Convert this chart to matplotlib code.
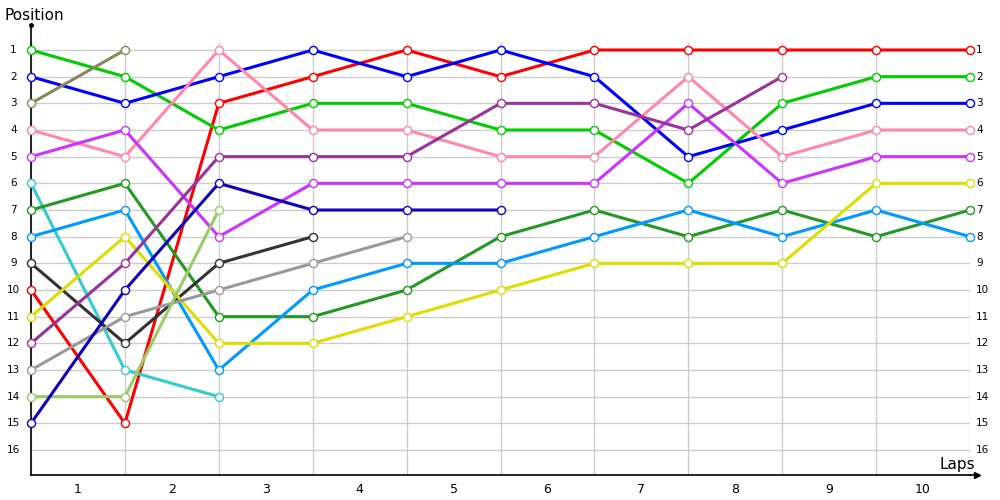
import matplotlib
matplotlib.use('Agg')
import matplotlib.pyplot as plt
from matplotlib import transforms

laps = ['1', '2', '3', '4', '5', '6', '7', '8', '9', '10']
positions = list(range(1, 17))

red = [10, 15, 3, 2, 1, 2, 1, 1, 1, 1, 1]
green = [1, 2, 4, 3, 3, 4, 4, 6, 3, 2, 2]
blue = [2, 3, 2, 1, 2, 1, 2, 5, 4, 3, 3]
olive = [3, 1]
pink = [4, 5, 1, 4, 4, 5, 5, 2, 5, 4, 4]
violet = [5, 4, 8, 6, 6, 6, 6, 3, 6, 5, 5]
cyan = [6, 13, 14]
dark_green = [7, 6, 11, 11, 10, 8, 7, 8, 7, 8, 7]
light_blue = [8, 7, 13, 10, 9, 9, 8, 7, 8, 7, 8]
charcoal = [9, 12, 9, 8]
yellow = [11, 8, 12, 12, 11, 10, 9, 9, 9, 6, 6]
purple = [12, 9, 5, 5, 5, 3, 3, 4, 2]
gray = [13, 11, 10, 9, 8]
lime = [14, 14, 7]
navy = [15, 10, 6, 7, 7, 7]

series = [
    (red, '#ff0000'), (green, '#00cc00'), (blue, '#0000ff'), (olive, '#888855'),
    (pink, '#ff88aa'), (violet, '#cc33ff'), (cyan, '#33cccc'), (dark_green, '#229922'),
    (light_blue, '#0099ff'), (charcoal, '#333333'), (yellow, '#dddd00'),
    (purple, '#993399'), (gray, '#999999'), (lime, '#99cc66'), (navy, '#1100bb'),
]

fig = plt.figure(figsize=(10, 5), dpi=100)
ax = fig.add_axes([0.031, 0.05, 0.939, 0.9])
ax.set_xlim(0, 10)
ax.set_ylim(16.9375, 0.0625)

# grid
ax.hlines(positions, 0, 10, color='#cccccc', lw=1, zorder=0)
ax.vlines(range(11), 0.7, 16.9375, color='#cccccc', lw=1, zorder=0)

for values, color in series:
    ax.plot(range(len(values)), values, color=color, lw=2.2, marker='o',
            markersize=5.8, markerfacecolor='white', markeredgecolor=color,
            markeredgewidth=1, zorder=3, clip_on=False)

for s in ['top', 'right']:
    ax.spines[s].set_visible(False)
ax.spines['left'].set_linewidth(1.2)
ax.spines['bottom'].set_linewidth(1.2)
ax.plot([0], [0.0625], 'ko', markersize=2.5, clip_on=False)
ax.plot([10, 10.07], [16.9375, 16.9375], color='black', lw=1.2, clip_on=False)
ax.plot([10.07], [16.9375], marker='>', color='black', markersize=5, clip_on=False)

# position labels on both sides
ax.set_yticks(positions)
ax.set_yticklabels([])
ax.tick_params(axis='y', length=0)
left_tr = transforms.blended_transform_factory(fig.transFigure, ax.transData)
for p in positions:
    fig.text(0.0135, p, str(p), transform=left_tr, fontsize=7.5,
             ha='center', va='center')
    fig.text(0.976, p, str(p), transform=left_tr, fontsize=7.5,
             ha='left', va='center')

ax.set_xticks([i + 0.5 for i in range(10)])
ax.set_xticklabels(laps, fontsize=9)
ax.tick_params(axis='x', length=0, pad=6)

fig.text(0.005, 0.97, 'Position', fontsize=11, va='center', ha='left')
fig.text(0.975, 0.07, 'Laps', fontsize=11, va='center', ha='right')

fig.savefig('out.png', dpi=100)
